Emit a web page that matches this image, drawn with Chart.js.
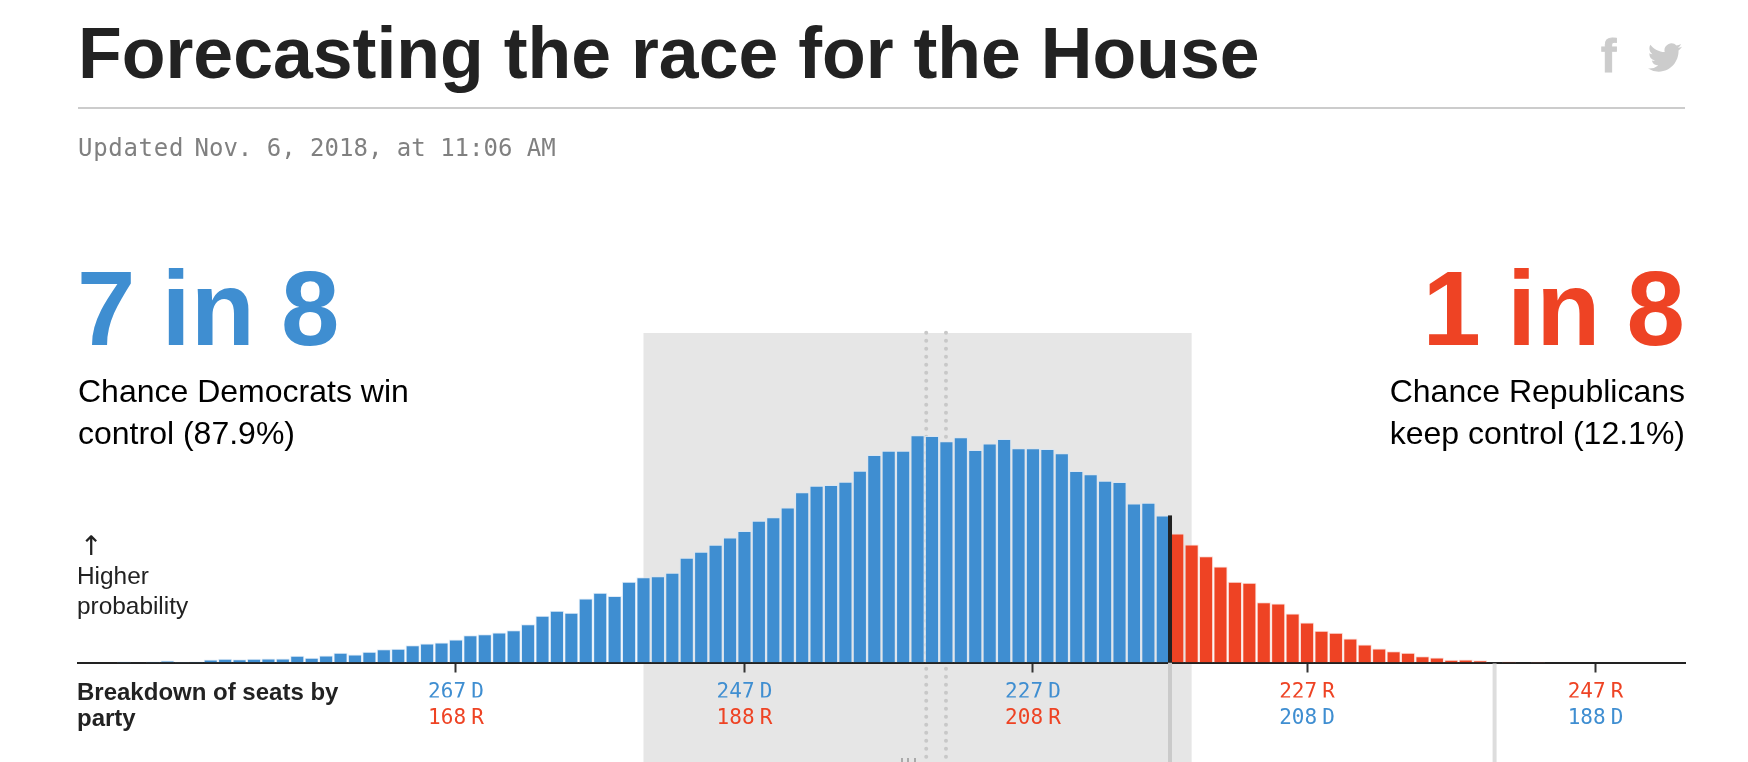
<!DOCTYPE html>
<html>
<head>
<meta charset="utf-8">
<title>Forecasting the race for the House</title>
<script src="https://cdn.jsdelivr.net/npm/chart.js@4/dist/chart.umd.min.js"></script>
<style>
    html, body { margin: 0; padding: 0; background: #fff; overflow: hidden; }
    #page { position: relative; width: 1748px; height: 762px; font-family: "Liberation Sans", Arial, sans-serif; }
    #page > div, #page > svg { position: absolute; white-space: nowrap; }
    canvas { position: absolute; left: 0; top: 0; }
    .title { left: 78px; top: 12px; font-size: 71.6px; line-height: 82px; font-weight: bold; color: #222; }
    .rule { left: 78px; top: 107px; width: 1607px; height: 2px; background: #ccc; }
    .updated { left: 78px; top: 133px; font: 24px/30px "DejaVu Sans Mono", monospace; color: #808080; }
    .updated span { letter-spacing: 0.7px; margin-right: -4px; }
    .odds { top: 248px; font-size: 105px; line-height: 122px; font-weight: bold; word-spacing: -3px; }
    .odds.dem { left: 77px; color: #3f8ed1; }
    .odds.rep { right: 63px; color: #ee4324; }
    .chance { top: 370px; font-size: 32px; line-height: 42px; color: #000; }
    .chance.dem { left: 78px; }
    .chance.rep { right: 63px; text-align: right; }
    .arrow { left: 80px; top: 531px; font: 27px/30px "DejaVu Sans", sans-serif; color: #222; }
    .ylabel { left: 77px; top: 561px; font-size: 24.4px; line-height: 30px; color: #222; }
    .breakdown { left: 77px; top: 679px; font-size: 24px; line-height: 26px; font-weight: bold; color: #222; white-space: normal !important; width: 300px; }
    .fb { left: 1601px; top: 30px; font-size: 46px; line-height: 52px; font-weight: bold; color: #ccc; -webkit-text-stroke: 1px #ccc; }
    .stubs { left: 901px; top: 758px; width: 16px; height: 4px; background: repeating-linear-gradient(90deg, #aaa 0 2px, transparent 2px 6.5px); }
</style>
</head>
<body>
<div id="page">
    <canvas id="house-chart" width="1748" height="762"></canvas>
    <div class="title">Forecasting the race for the House</div>
    <div class="fb">f</div>
    <svg style="left:1648px;top:43px" width="34" height="29" viewBox="0 0 24 20" preserveAspectRatio="none"><path fill="#ccc" transform="translate(0,-2)" d="M23.953 4.57a10 10 0 01-2.825.775 4.958 4.958 0 002.163-2.723c-.951.555-2.005.959-3.127 1.184a4.92 4.92 0 00-8.384 4.482C7.69 8.095 4.067 6.13 1.64 3.162a4.822 4.822 0 00-.666 2.475c0 1.71.87 3.213 2.188 4.096a4.904 4.904 0 01-2.228-.616v.06a4.923 4.923 0 003.946 4.827 4.996 4.996 0 01-2.212.085 4.936 4.936 0 004.604 3.417 9.867 9.867 0 01-6.102 2.105c-.39 0-.779-.023-1.17-.067a13.995 13.995 0 007.557 2.209c9.053 0 13.998-7.496 13.998-13.985 0-.21 0-.42-.015-.63A9.935 9.935 0 0024 4.59z"/></svg>
    <div class="rule"></div>
    <div class="updated"><span>Updated</span> Nov. 6, 2018, at 11:06 AM</div>
    <div class="odds dem">7 in 8</div>
    <div class="odds rep">1 in 8</div>
    <div class="chance dem">Chance Democrats win<br>control (87.9%)</div>
    <div class="chance rep">Chance Republicans<br>keep control (12.1%)</div>
    <div class="arrow">↑</div>
    <div class="ylabel">Higher<br>probability</div>
    <div class="breakdown">Breakdown of seats by party</div>
    <div class="stubs"></div>
</div>

<script>
"use strict";

var TOTAL_SEATS = 435;

// Democratic seats for each bar, 290 down to 192
var demSeats = [290, 289, 288, 287, 286, 285, 284, 283, 282, 281,
    280, 279, 278, 277, 276, 275, 274, 273, 272, 271,
    270, 269, 268, 267, 266, 265, 264, 263, 262, 261,
    260, 259, 258, 257, 256, 255, 254, 253, 252, 251,
    250, 249, 248, 247, 246, 245, 244, 243, 242, 241,
    240, 239, 238, 237, 236, 235, 234, 233, 232, 231,
    230, 229, 228, 227, 226, 225, 224, 223, 222, 221,
    220, 219, 218, 217, 216, 215, 214, 213, 212, 211,
    210, 209, 208, 207, 206, 205, 204, 203, 202, 201,
    200, 199, 198, 197, 196, 195, 194, 193, 192];

// chance of each outcome, in percent
var probability = [0.012, 0.004, 0.012, 0.024, 0.009, 0.012, 0.037, 0.045, 0.040, 0.045,
    0.049, 0.049, 0.082, 0.058, 0.086, 0.119, 0.098, 0.131, 0.163, 0.168,
    0.212, 0.233, 0.245, 0.282, 0.334, 0.346, 0.367, 0.395, 0.469, 0.572,
    0.633, 0.608, 0.783, 0.853, 0.812, 0.988, 1.044, 1.056, 1.098, 1.282,
    1.355, 1.441, 1.530, 1.607, 1.734, 1.778, 1.897, 2.081, 2.163, 2.170,
    2.212, 2.346, 2.537, 2.591, 2.591, 2.778, 2.770, 2.705, 2.754, 2.599,
    2.677, 2.733, 2.619, 2.619, 2.611, 2.558, 2.342, 2.301, 2.224, 2.207,
    1.946, 1.955, 1.799, 1.579, 1.444, 1.301, 1.175, 0.988, 0.976, 0.738,
    0.722, 0.600, 0.490, 0.388, 0.364, 0.294, 0.220, 0.171, 0.138, 0.119,
    0.077, 0.061, 0.033, 0.037, 0.028, 0, 0.012, 0, 0.009];

var tickSeats = [267, 247, 227, 208, 188];
var majorityLine = 217.5;      // Democrats need 218
var greyBand = [254, 216];
var dottedSeats = [234.4, 233.03];
var currentLine = 195;

var BLUE = "#3f8ed1";
var RED = "#ee4324";

function partyLabel(dem, first) {
    // the leading party's count goes on the first line
    var rep = TOTAL_SEATS - dem;
    var top = dem >= 218 ? dem + " D" : rep + " R";
    var bottom = dem >= 218 ? rep + " R" : dem + " D";
    return first ? top : bottom;
}

function labelColor(dem, first) {
    var demLine = (dem >= 218) === first;
    return demLine ? BLUE : RED;
}

var overlays = {
    id: "overlays",
    beforeDraw: function (chart) {
        var ctx = chart.ctx, x = chart.scales.x, area = chart.chartArea;
        ctx.save();
        ctx.fillStyle = "#e6e6e6";
        ctx.fillRect(x.getPixelForValue(greyBand[0]), area.top, x.getPixelForValue(greyBand[1]) - x.getPixelForValue(greyBand[0]), chart.height - area.top);
        ctx.strokeStyle = "#c8c8c8";
        ctx.lineWidth = 4;
        ctx.lineCap = "round";
        ctx.setLineDash([0, 8]);
        dottedSeats.forEach(function (seat) {
            var px = x.getPixelForValue(seat);
            ctx.beginPath();
            ctx.moveTo(px, 668.7);
            ctx.lineTo(px, 758);
            ctx.moveTo(px, 668.7);
            ctx.lineTo(px, 330);
            ctx.stroke();
        });
        ctx.restore();
        // tighten the gap between the number and the party letter
        ctx.wordSpacing = "-7.5px";
    },
    afterDatasetsDraw: function (chart) {
        var ctx = chart.ctx, x = chart.scales.x, y = chart.scales.y, area = chart.chartArea;
        var px = x.getPixelForValue(majorityLine);
        ctx.save();
        ctx.fillStyle = "#cacaca";
        ctx.fillRect(px - 2, area.bottom, 4, chart.height - area.bottom);
        ctx.fillStyle = "#222";
        var topValue = probability[demSeats.indexOf(218)];
        ctx.fillRect(px - 2, y.getPixelForValue(topValue), 4, area.bottom - y.getPixelForValue(topValue));
        ctx.fillStyle = "#ddd";
        ctx.fillRect(x.getPixelForValue(currentLine) - 2, area.bottom + 1, 4, chart.height - area.bottom);
        ctx.restore();
    }
};

var barData = demSeats.map(function (seat, i) {
    return { x: seat, y: probability[i] };
});

var seatAxis = {
    type: "linear",
    position: "bottom",
    reverse: true,
    offset: false,
    min: 181.8,
    max: 293.2,
    afterBuildTicks: function (scale) {
        scale.ticks = tickSeats.map(function (v) { return { value: v }; });
    }
};

new Chart(document.getElementById("house-chart"), {
    type: "bar",
    data: {
        datasets: [{
            data: barData,
            backgroundColor: demSeats.map(function (s) { return s >= 218 ? BLUE : RED; }),
            borderColor: demSeats.map(function (s) { return s >= 218 ? "rgba(214,230,245,0.75)" : "rgba(250,214,205,0.75)"; }),
            borderWidth: { top: 1, left: 1, right: 1, bottom: 0 },
            barPercentage: 0.98,
            categoryPercentage: 1
        }]
    },
    options: {
        responsive: false,
        animation: false,
        layout: { padding: { left: 78, right: 63, top: 333, bottom: 0 } },
        plugins: { legend: { display: false }, tooltip: { enabled: false } },
        scales: {
            x: Object.assign({}, seatAxis, {
                weight: 0,
                border: { color: "#222", width: 2 },
                grid: { display: true, offset: false, drawOnChartArea: false, drawTicks: true, tickLength: 10, tickWidth: 2, tickColor: "#333" },
                ticks: {
                    autoSkip: false,
                    maxRotation: 0,
                    padding: 7,
                    font: { family: "DejaVu Sans Mono", size: 21 },
                    color: function (c) { return labelColor(c.tick.value, true); },
                    callback: function (v) { return partyLabel(v, true); }
                },
                afterFit: function (s) { s.height = 35; }
            }),
            x2: Object.assign({}, seatAxis, {
                weight: 1,
                border: { display: false },
                grid: { display: false, offset: false },
                ticks: {
                    autoSkip: false,
                    maxRotation: 0,
                    padding: 0,
                    font: { family: "DejaVu Sans Mono", size: 21 },
                    color: function (c) { return labelColor(c.tick.value, false); },
                    callback: function (v) { return partyLabel(v, false); }
                },
                afterFit: function (s) { s.height = 64.5; }
            }),
            y: { display: false, min: 0, max: 4.03 }
        }
    },
    plugins: [overlays]
});
</script>
</body>
</html>
